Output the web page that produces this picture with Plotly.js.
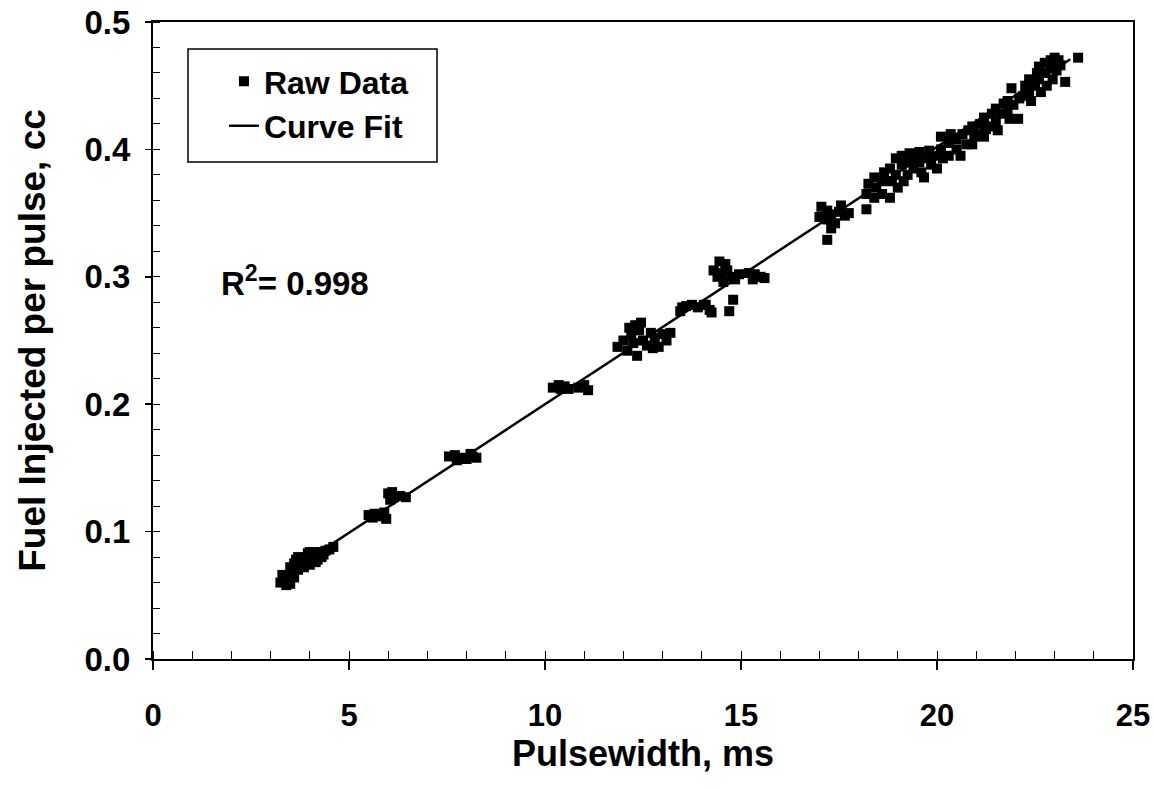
<!DOCTYPE html>
<html>
<head>
<meta charset="utf-8">
<script src="https://cdn.plot.ly/plotly-3.0.1.min.js"></script>
<style>html,body{margin:0;padding:0;background:#fff;}#chart{width:1154px;height:788px;}</style>
</head>
<body>
<div id="chart"></div>
<script>
// Raw data (pulsewidth in ms, fuel in cc), grouped by cluster
const rawPulsewidth = [
  3.25,3.35,3.4,3.5,3.45,3.55,3.5,3.6,3.65,3.7,3.8,3.9,4.0,4.1,4.2,4.25,4.3,4.4,4.5,4.6,4.0,3.85,4.15,4.35,3.7,3.95,3.3,3.6,
  5.5,5.65,5.8,5.95,5.9,5.6,
  6.0,6.1,6.15,6.3,6.45,6.05,
  7.55,7.7,7.85,8.0,8.15,8.25,7.75,8.1,
  10.2,10.35,10.5,10.6,10.85,11.0,11.1,10.4,
  11.85,12.0,12.1,12.2,12.3,12.35,12.4,12.5,12.6,12.7,12.8,12.9,13.0,13.1,13.2,12.25,12.75,12.45,12.15,
  13.45,13.6,13.75,13.9,14.05,14.2,13.5,14.1,14.25,
  14.4,14.5,14.55,14.65,14.75,14.85,14.95,14.6,14.3,14.8,14.7,14.45,
  15.2,15.35,15.5,15.6,15.3,
  17.0,17.05,17.2,17.3,17.4,17.5,17.55,17.65,17.75,17.2,17.2,17.3,
  18.2,18.2,18.25,18.4,18.4,18.45,18.6,18.6,18.65,18.8,18.8,18.85,18.95,18.95,19.0,19.1,19.1,19.15,19.25,19.25,19.3,19.4,19.4,19.45,19.55,19.55,19.6,19.67,19.7,19.8,19.85,19.95,20.0,
  20.1,20.1,20.15,20.3,20.3,20.35,20.5,20.5,20.6,20.65,20.75,20.8,20.9,20.9,20.95,21.05,21.1,21.2,21.2,21.25,21.35,21.4,21.5,21.5,21.55,21.65,21.7,21.8,21.8,21.85,21.9,21.95,22.07,22.1,
  22.2,22.25,22.35,22.35,22.4,22.5,22.55,22.6,22.6,22.65,22.75,22.75,22.8,22.9,22.9,22.95,23.0,23.05,23.1,23.15,23.27,23.6
];
const rawFuel = [
  0.060,0.062,0.058,0.059,0.065,0.068,0.072,0.075,0.078,0.070,0.076,0.080,0.074,0.082,0.078,0.084,0.080,0.085,0.086,0.088,0.084,0.072,0.076,0.082,0.080,0.083,0.066,0.064,
  0.113,0.114,0.112,0.110,0.115,0.111,
  0.130,0.131,0.127,0.128,0.127,0.125,
  0.159,0.160,0.158,0.157,0.159,0.158,0.156,0.161,
  0.213,0.215,0.214,0.212,0.213,0.215,0.211,0.212,
  0.245,0.250,0.242,0.255,0.262,0.238,0.258,0.250,0.246,0.256,0.252,0.245,0.255,0.250,0.256,0.248,0.244,0.264,0.260,
  0.273,0.277,0.278,0.276,0.278,0.274,0.276,0.278,0.272,
  0.300,0.303,0.296,0.305,0.300,0.298,0.302,0.310,0.305,0.282,0.273,0.312,
  0.303,0.302,0.300,0.299,0.298,
  0.347,0.355,0.345,0.349,0.342,0.351,0.356,0.348,0.350,0.352,0.329,0.338,
  0.353,0.365,0.373,0.378,0.362,0.370,0.375,0.365,0.382,0.362,0.385,0.375,0.393,0.380,0.370,0.388,0.395,0.375,0.390,0.380,0.397,0.396,0.385,0.392,0.390,0.398,0.382,0.378,0.393,0.399,0.388,0.395,0.385,
  0.410,0.400,0.393,0.405,0.395,0.412,0.400,0.408,0.395,0.412,0.404,0.415,0.404,0.418,0.410,0.412,0.420,0.410,0.425,0.416,0.418,0.428,0.422,0.432,0.415,0.428,0.436,0.430,0.438,0.424,0.448,0.435,0.424,0.440,
  0.442,0.450,0.445,0.455,0.438,0.450,0.460,0.455,0.465,0.445,0.460,0.468,0.450,0.465,0.470,0.455,0.472,0.462,0.470,0.466,0.453,0.472
];
// Curve fit end points (linear fit)
const fitPulsewidth = [3.3, 23.4];
const fitFuel = [0.0647, 0.4707];

const xTickVals = [0, 5, 10, 15, 20, 25];
const yTickVals = [0.0, 0.1, 0.2, 0.3, 0.4, 0.5];

const FONT = '"Liberation Sans", Arial, Helvetica, sans-serif';

const traces = [
  {
    x: rawPulsewidth, y: rawFuel, type: 'scatter', mode: 'markers', name: 'Raw Data',
    marker: {symbol: 'square', size: 10, color: '#000'}
  },
  {
    x: fitPulsewidth, y: fitFuel, type: 'scatter', mode: 'lines', name: 'Curve Fit',
    line: {color: '#000', width: 2.5}
  }
];

const layout = {
  width: 1154, height: 788,
  margin: {l: 153, r: 21, t: 22, b: 129},
  paper_bgcolor: '#fff', plot_bgcolor: '#fff',
  font: {family: FONT, color: '#000'},
  showlegend: true,
  legend: {
    x: 0.0724, y: 0.950, xanchor: 'left', yanchor: 'top',
    borderwidth: 0, bgcolor: 'rgba(0,0,0,0)',
    font: {family: FONT, size: 32, color: '#000', weight: 'bold'},
    tracegroupgap: 0
  },
  shapes: [{
    type: 'rect', xref: 'paper', yref: 'paper',
    x0: 0.0357, x1: 0.2898, y0: 0.7802, y1: 0.9576,
    line: {color: '#000', width: 1.5}, fillcolor: 'rgba(0,0,0,0)', layer: 'below'
  }],
  xaxis: {
    range: [0, 25], tickvals: xTickVals, ticktext: xTickVals.map(String),
    showgrid: false, zeroline: false,
    showline: true, linecolor: '#000', linewidth: 2, mirror: true,
    ticks: 'outside', ticklen: 9, tickwidth: 1.5, tickcolor: '#000',
    minor: {dtick: 1, ticks: 'inside', ticklen: 8, tickwidth: 1, tickcolor: '#000', showgrid: false},
    ticklabelstandoff: 19,
    tickfont: {family: FONT, size: 31, color: '#000', weight: 'bold'},
    title: {text: 'Pulsewidth, ms', font: {family: FONT, size: 36, color: '#000', weight: 'bold'}, standoff: 2}
  },
  yaxis: {
    range: [0, 0.5], tickvals: yTickVals, ticktext: yTickVals.map(v => v.toFixed(1)),
    showgrid: false, zeroline: false,
    showline: true, linecolor: '#000', linewidth: 2, mirror: true,
    ticks: 'outside', ticklen: 6, tickwidth: 1.5, tickcolor: '#000',
    minor: {dtick: 0.02, ticks: 'inside', ticklen: 7, tickwidth: 1, tickcolor: '#000', showgrid: false},
    ticklabelstandoff: 8,
    tickfont: {family: FONT, size: 33, color: '#000', weight: 'bold'},
    title: {text: 'Fuel Injected per pulse, cc', font: {family: FONT, size: 37, color: '#000', weight: 'bold'}, standoff: 28}
  },
  annotations: [{
    x: 3.62, y: 0.297, xref: 'x', yref: 'y', showarrow: false,
    text: 'R<sup>2</sup>= 0.998',
    font: {family: FONT, size: 33, color: '#000', weight: 'bold'}
  }]
};

Plotly.newPlot('chart', traces, layout, {displayModeBar: false, staticPlot: true});
</script>
</body>
</html>
